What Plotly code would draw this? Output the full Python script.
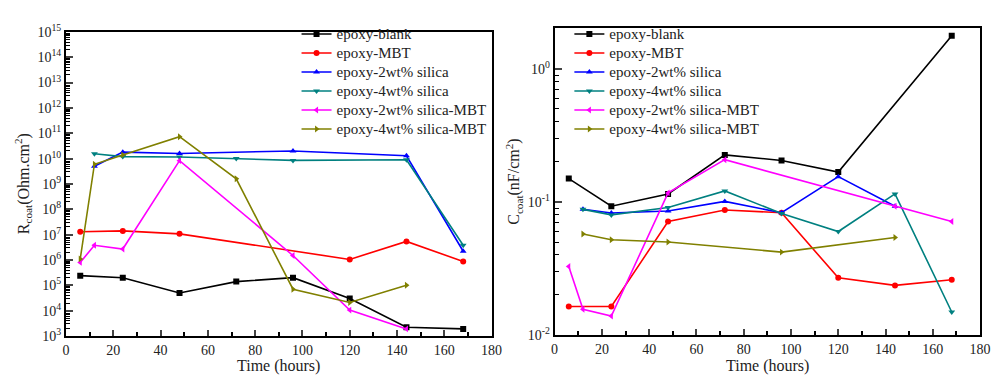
import plotly.graph_objects as go

names = ["epoxy-blank", "epoxy-MBT", "epoxy-2wt% silica", "epoxy-4wt% silica",
         "epoxy-2wt% silica-MBT", "epoxy-4wt% silica-MBT"]
colors = ["#000000", "#ff0000", "#0000ff", "#008080", "#ff00ff", "#808000"]
symbols = ["square", "circle", "triangle-up", "triangle-down", "triangle-left", "triangle-right"]

# Left panel: R_coat (Ohm.cm^2)
r_blank_t = [6, 24, 48, 72, 96, 120, 144, 168]
r_blank = [2.4e5, 2.0e5, 5.0e4, 1.4e5, 2.0e5, 3.0e4, 2.2e3, 1.9e3]
r_mbt_t = [6, 24, 48, 120, 144, 168]
r_mbt = [1.3e7, 1.4e7, 1.07e7, 1.05e6, 5.4e6, 8.7e5]
r_s2_t = [12, 24, 48, 96, 144, 168]
r_s2 = [5.0e9, 1.8e10, 1.6e10, 2.0e10, 1.3e10, 2.2e6]
r_s4_t = [12, 24, 48, 72, 96, 144, 168]
r_s4 = [1.55e10, 1.2e10, 1.15e10, 1.0e10, 8.5e9, 9.0e9, 3.8e6]
r_s2m_t = [6, 12, 24, 48, 96, 120, 144]
r_s2m = [8.0e5, 3.8e6, 2.7e6, 8.3e9, 1.5e6, 1.05e4, 1.9e3]
r_s4m_t = [6, 12, 24, 48, 72, 96, 120, 144]
r_s4m = [1.1e6, 6.0e9, 1.4e10, 7.3e10, 1.6e9, 7.0e4, 2.1e4, 1.0e5]

# Right panel: C_coat (nF/cm^2)
c_blank_t = [6, 24, 48, 72, 96, 120, 168]
c_blank = [0.150, 0.093, 0.115, 0.226, 0.205, 0.168, 1.78]
c_mbt_t = [6, 24, 48, 72, 96, 120, 144, 168]
c_mbt = [0.0164, 0.0164, 0.0713, 0.087, 0.083, 0.0269, 0.0236, 0.026]
c_s2_t = [12, 24, 48, 72, 96, 120, 144]
c_s2 = [0.0883, 0.0826, 0.0855, 0.101, 0.083, 0.155, 0.093]
c_s4_t = [12, 24, 48, 72, 96, 120, 144, 168]
c_s4 = [0.088, 0.080, 0.091, 0.121, 0.082, 0.060, 0.115, 0.0149]
c_s2m_t = [6, 12, 24, 48, 72, 144, 168]
c_s2m = [0.0328, 0.0156, 0.0139, 0.117, 0.208, 0.093, 0.0713]
c_s4m_t = [12, 24, 48, 96, 144]
c_s4m = [0.0575, 0.052, 0.050, 0.042, 0.054]

left = [(r_blank_t, r_blank), (r_mbt_t, r_mbt), (r_s2_t, r_s2), (r_s4_t, r_s4),
        (r_s2m_t, r_s2m), (r_s4m_t, r_s4m)]
right = [(c_blank_t, c_blank), (c_mbt_t, c_mbt), (c_s2_t, c_s2), (c_s4_t, c_s4),
         (c_s2m_t, c_s2m), (c_s4m_t, c_s4m)]

x_ticks = list(range(0, 181, 20))
r_decades = list(range(3, 16))
c_decades = [-2, -1, 0]

FONT = "Liberation Serif, Times New Roman, DejaVu Serif, serif"
TXT = "#222"

def leg_name(n):
    return '<span style="font-size:15px">%s</span>' % n

fig = go.Figure()
for i, (t, v) in enumerate(left):
    fig.add_trace(go.Scatter(x=t, y=v, name=leg_name(names[i]), mode="lines+markers",
                             line=dict(color=colors[i], width=1.6),
                             marker=dict(symbol=symbols[i], size=6, color=colors[i]),
                             xaxis="x", yaxis="y", legend="legend"))
for i, (t, v) in enumerate(right):
    fig.add_trace(go.Scatter(x=t, y=v, name=leg_name(names[i]), mode="lines+markers",
                             line=dict(color=colors[i], width=1.6),
                             marker=dict(symbol=symbols[i], size=6, color=colors[i]),
                             xaxis="x2", yaxis="y2", legend="legend2"))

def xax(domain, anchor):
    return dict(domain=domain, anchor=anchor, range=[0, 180], tickvals=x_ticks,
                ticks="inside", ticklen=6, tickwidth=1.5, showline=True, linecolor="black",
                linewidth=2, mirror=True, showgrid=False, zeroline=False,
                tickfont=dict(family=FONT, size=14, color=TXT),
                minor=dict(tickmode="array", tickvals=[v + 10 for v in x_ticks[:-1]],
                           ticks="inside", ticklen=4, tickwidth=1.5, tickcolor="black",
                           showgrid=False))

def yax(domain, anchor, decades, rng):
    minors = [k * 10 ** d for d in decades[:-1] for k in range(2, 10)]
    minors += [k * 10 ** decades[-1] for k in range(2, 10) if k * 10 ** decades[-1] < 10 ** rng[1]]
    return dict(domain=domain, anchor=anchor, type="log", range=rng,
                tickvals=[10 ** d for d in decades],
                ticktext=["10<sup>%d</sup>" % d for d in decades],
                ticks="inside", ticklen=7, tickwidth=1.5, showline=True, linecolor="black",
                linewidth=2, mirror=True, showgrid=False, zeroline=False,
                tickfont=dict(family=FONT, size=14, color=TXT),
                minor=dict(tickmode="array", tickvals=minors, ticks="inside", ticklen=4,
                           tickwidth=1, tickcolor="black", showgrid=False))

fig.update_layout(
    width=998, height=384, margin=dict(l=0, r=0, t=0, b=0),
    paper_bgcolor="white", plot_bgcolor="white",
    font=dict(family=FONT, color=TXT),
    xaxis=xax([63 / 998, 495 / 998], "y"),
    yaxis=yax([1 - 342 / 384, 1 - 23 / 384], "x", r_decades, [3, 15]),
    xaxis2=xax([559 / 998, 991 / 998], "y2"),
    yaxis2=yax([1 - 341 / 384, 1 - 19 / 384], "x2", c_decades, [-2, 0.307]),
    legend=dict(x=297 / 998, y=1 - 10 / 384, xanchor="left", yanchor="top",
                bgcolor="rgba(0,0,0,0)", font=dict(family=FONT, size=12, color=TXT),
                tracegroupgap=0, itemwidth=30),
    legend2=dict(x=574 / 998, y=1 - 10 / 384, xanchor="left", yanchor="top",
                 bgcolor="rgba(0,0,0,0)", font=dict(family=FONT, size=12, color=TXT),
                 tracegroupgap=0, itemwidth=30),
    annotations=[
        dict(text="Time (hours)", x=279 / 998, y=1 - 374 / 384, xref="paper", yref="paper",
             xanchor="center", yanchor="middle", showarrow=False,
             font=dict(family=FONT, size=16, color=TXT)),
        dict(text="Time (hours)", x=775 / 998, y=1 - 374 / 384, xref="paper", yref="paper",
             xanchor="center", yanchor="middle", showarrow=False,
             font=dict(family=FONT, size=16, color=TXT)),
        dict(text="R<sub>coat</sub>(Ohm.cm<sup>2</sup>)", x=20 / 998, y=1 - 182 / 384,
             xref="paper", yref="paper", xanchor="center", yanchor="middle",
             showarrow=False, textangle=-90,
             font=dict(family=FONT, size=16, color=TXT)),
        dict(text="C<sub>coat</sub>(nF/cm<sup>2</sup>)", x=517 / 998, y=1 - 180 / 384,
             xref="paper", yref="paper", xanchor="center", yanchor="middle",
             showarrow=False, textangle=-90,
             font=dict(family=FONT, size=16, color=TXT)),
    ],
)

fig.write_html("out.html")
